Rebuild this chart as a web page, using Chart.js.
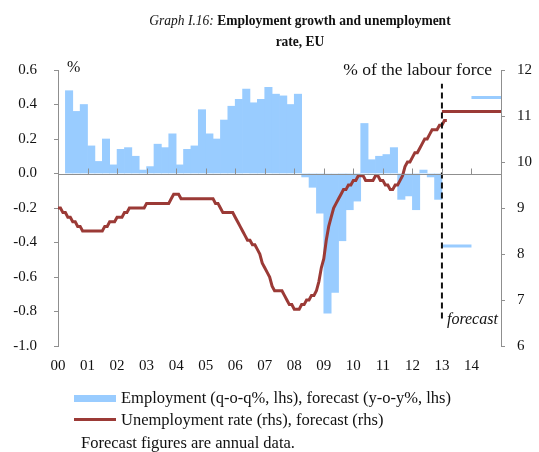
<!DOCTYPE html>
<html>
<head>
<meta charset="utf-8">
<script src="https://cdn.jsdelivr.net/npm/chart.js@4.4.0/dist/chart.umd.min.js"></script>
<style>
  body { margin: 0; background: #fff; font-family: "Liberation Serif", "Times New Roman", serif; color: #111; }
  #page { position: relative; width: 539px; height: 452px; overflow: hidden; }
  #title { position: absolute; left: 61px; top: 10px; width: 478px; text-align: center; font-size: 15px; line-height: 21px; font-weight: bold; transform: scaleX(0.9); }
  #title i { font-weight: normal; }
  #chartBox { position: absolute; left: 0; top: 0; width: 539px; height: 390px; }
  .lg { position: absolute; left: 121px; font-size: 16.5px; white-space: nowrap; }
  .key { position: absolute; left: 74px; width: 42px; }
</style>
</head>
<body>
<div id="page">
  <div id="chartBox"><canvas id="chart"></canvas></div>
  <div id="title"><i>Graph I.16:</i> Employment growth and unemployment<br>rate, EU</div>
  <div class="key" style="top:395px;height:7px;background:#99ccff"></div>
  <div class="lg" style="top:388px">Employment (q-o-q%, lhs), forecast (y-o-y%, lhs)</div>
  <div class="key" style="top:418px;height:3px;background:#9b3a36"></div>
  <div class="lg" style="top:410px">Unemployment rate (rhs), forecast (rhs)</div>
  <div class="lg" style="top:433px;left:81px">Forecast figures are annual data.</div>
</div>
<script>
(function () {
  // x tick labels, one per year 2000..2014
  const yearLabels = ['00', '01', '02', '03', '04', '05', '06', '07', '08', '09', '10', '11', '12', '13', '14'];

  // Employment growth, q-o-q %, 2000Q1 .. 2012Q4
  const employmentQoQ = [
    null, 0.48, 0.36, 0.40,
    0.16, 0.07, 0.20, 0.05,
    0.14, 0.15, 0.10, 0.02,
    0.04, 0.17, 0.15, 0.23,
    0.05, 0.14, 0.16, 0.37,
    0.23, 0.20, 0.31, 0.39,
    0.43, 0.49, 0.41, 0.43,
    0.50, 0.46, 0.45, 0.40,
    0.46, -0.02, -0.08, -0.23,
    -0.81, -0.69, -0.39, -0.21,
    -0.16, 0.29, 0.08, 0.10,
    0.11, 0.15, -0.15, -0.13,
    -0.21, 0.02, -0.02, -0.15
  ];

  // Forecast years and annual forecasts
  const forecastYears = [2013, 2014];
  const employmentForecast = [-0.42, 0.44];
  const unemploymentForecast = [11.1, 11.1];

  // Unemployment rate, monthly, Jan 2000 .. Mar 2013
  const unemploymentMonthly = [
    9.0, 9.0, 8.9, 8.9, 8.8, 8.8, 8.7, 8.7, 8.6, 8.6, 8.5, 8.5,
    8.5, 8.5, 8.5, 8.5, 8.5, 8.5, 8.5, 8.6, 8.6, 8.7, 8.7, 8.7,
    8.8, 8.8, 8.8, 8.9, 8.9, 9.0, 9.0, 9.0, 9.0, 9.0, 9.0, 9.0,
    9.1, 9.1, 9.1, 9.1, 9.1, 9.1, 9.1, 9.1, 9.1, 9.1, 9.2, 9.3,
    9.3, 9.3, 9.2, 9.2, 9.2, 9.2, 9.2, 9.2, 9.2, 9.2, 9.2, 9.2,
    9.2, 9.2, 9.2, 9.2, 9.1, 9.1, 9.0, 8.9, 8.9, 8.9, 8.9, 8.9,
    8.8, 8.7, 8.6, 8.5, 8.4, 8.3, 8.3, 8.2, 8.2, 8.1, 8.0, 7.8,
    7.7, 7.6, 7.5, 7.3, 7.2, 7.2, 7.2, 7.2, 7.1, 7.0, 6.9, 6.9,
    6.8, 6.8, 6.8, 6.9, 6.9, 7.0, 7.0, 7.1, 7.1, 7.2, 7.4, 7.7,
    7.9, 8.3, 8.6, 8.8, 9.0, 9.1, 9.2, 9.3, 9.4, 9.4, 9.5, 9.5,
    9.6, 9.6, 9.7, 9.7, 9.7, 9.6, 9.6, 9.6, 9.6, 9.7, 9.7, 9.6,
    9.6, 9.5, 9.5, 9.4, 9.4, 9.5, 9.5, 9.6, 9.7, 9.9, 10.0, 10.0,
    10.1, 10.2, 10.2, 10.3, 10.4, 10.5, 10.5, 10.6, 10.7, 10.7, 10.7, 10.8,
    10.8, 10.9, 10.9
  ];

  // Vertical forecast marker (rhs units)
  const forecastMarkRange = [6.6, 11.7];

  const firstYear = 2000;
  const lastYear = 2015;

  const barPoints = employmentQoQ.map((v, i) => ({ x: firstYear + i * 0.25 + 0.125, y: v }));
  const ratePoints = unemploymentMonthly.map((v, i) => ({ x: firstYear + i / 12, y: v }));

  // annual forecasts drawn as flat segments over their year
  const empForecastPoints = [];
  forecastYears.forEach((yr, i) => {
    empForecastPoints.push({ x: yr, y: employmentForecast[i] }, { x: yr + 1, y: employmentForecast[i] }, { x: yr + 1, y: null });
  });
  const rateForecastPoints = [];
  forecastYears.forEach((yr, i) => {
    rateForecastPoints.push({ x: yr, y: unemploymentForecast[i] }, { x: yr + 1, y: unemploymentForecast[i] });
  });
  const markPoints = forecastMarkRange.map(v => ({ x: forecastYears[0], y: v }));

  const axisGrey = '#8f8f8f';
  const serif = '"Liberation Serif", "Times New Roman", serif';

  // zero line with year ticks, and the small annotations
  const decor = {
    id: 'decor',
    afterDatasetsDraw(chart) {
      const { ctx, chartArea: a, scales: { x, y, y2 } } = chart;
      const zero = Math.round(y.getPixelForValue(0)) + 0.5;
      ctx.save();
      ctx.strokeStyle = axisGrey;
      ctx.lineWidth = 1;
      ctx.beginPath();
      ctx.moveTo(a.left, zero);
      ctx.lineTo(a.right, zero);
      x.ticks.forEach(t => {
        if (t.value <= firstYear || t.value >= lastYear) return;
        const px = Math.round(x.getPixelForValue(t.value)) + 0.5;
        ctx.moveTo(px, zero);
        ctx.lineTo(px, zero - 6);
      });
      ctx.stroke();

      ctx.fillStyle = '#111';
      ctx.textBaseline = 'middle';
      ctx.font = '16px ' + serif;
      ctx.textAlign = 'left';
      ctx.fillText('%', a.left + 9, a.top - 2);
      ctx.font = '17.5px ' + serif;
      ctx.textAlign = 'right';
      ctx.fillText('% of the labour force', a.right - 9, a.top);
      ctx.font = 'italic 16px ' + serif;
      ctx.textAlign = 'left';
      ctx.fillText('forecast', x.getPixelForValue(forecastYears[0]) + 5, y2.getPixelForValue(forecastMarkRange[0]) + 1);
      ctx.restore();
    }
  };

  new Chart(document.getElementById('chart'), {
    type: 'bar',
    data: {
      datasets: [
        { type: 'line', data: markPoints, yAxisID: 'y2', borderColor: '#111', borderWidth: 2, borderDash: [6, 4], pointRadius: 0, order: 0 },
        { type: 'line', data: ratePoints, yAxisID: 'y2', borderColor: '#9b3a36', borderWidth: 3, pointRadius: 0, tension: 0, order: 1 },
        { type: 'line', data: rateForecastPoints, yAxisID: 'y2', borderColor: '#9b3a36', borderWidth: 3, pointRadius: 0, order: 1 },
        { type: 'line', data: empForecastPoints, yAxisID: 'y', borderColor: '#99ccff', borderWidth: 3, pointRadius: 0, spanGaps: false, order: 2 },
        { type: 'bar', data: barPoints, yAxisID: 'y', backgroundColor: '#99ccff', borderWidth: 0, barPercentage: 1, categoryPercentage: 1, grouped: false, order: 3 }
      ]
    },
    options: {
      responsive: true,
      maintainAspectRatio: false,
      animation: false,
      layout: { padding: { top: 70, bottom: 14, left: 0, right: 0 } },
      plugins: { legend: { display: false }, tooltip: { enabled: false } },
      scales: {
        x: {
          type: 'linear',
          min: firstYear,
          max: lastYear,
          offset: false,
          grid: { display: false, drawTicks: false, offset: false },
          border: { display: false },
          afterFit(scale) { scale.height = 30; },
          ticks: {
            stepSize: 1,
            autoSkip: false,
            maxRotation: 0,
            padding: 11,
            color: '#111',
            font: { family: serif, size: 15 },
            callback: v => yearLabels[v - firstYear] ?? null
          }
        },
        y: {
          position: 'left',
          min: -1,
          max: 0.6,
          grid: { drawOnChartArea: false, tickLength: 4, color: axisGrey },
          border: { color: axisGrey },
          afterFit(scale) { scale.width = 58; },
          ticks: { stepSize: 0.2, padding: 17, color: '#111', font: { family: serif, size: 15 }, callback: v => v.toFixed(1) }
        },
        y2: {
          position: 'right',
          min: 6,
          max: 12,
          grid: { drawOnChartArea: false, tickLength: 4, color: axisGrey },
          border: { color: axisGrey },
          afterFit(scale) { scale.width = 38; },
          ticks: { stepSize: 1, padding: 12, color: '#111', font: { family: serif, size: 15 } }
        }
      }
    },
    plugins: [decor]
  });
})();
</script>
</body>
</html>
